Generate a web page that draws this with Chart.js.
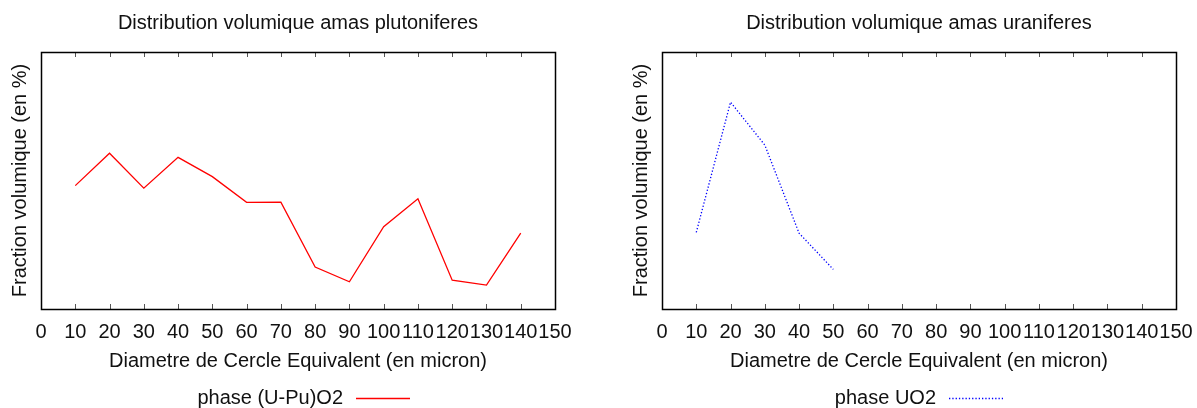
<!DOCTYPE html>
<html>
<head>
<meta charset="utf-8">
<script src="https://cdn.jsdelivr.net/npm/chart.js@4/dist/chart.umd.min.js"></script>
<style>
  html, body { margin: 0; padding: 0; background: #fff; }
  #wrap { position: relative; width: 1197px; height: 408px; overflow: hidden; }
  canvas { position: absolute; top: 0; }
</style>
</head>
<body>
<div id="wrap">
  <canvas id="c1" width="600" height="408" style="left:0px"></canvas>
  <canvas id="c2" width="600" height="408" style="left:621px"></canvas>
</div>
<script>
// ---- data ----
const xTickLabels = [0, 10, 20, 30, 40, 50, 60, 70, 80, 90, 100, 110, 120, 130, 140, 150];
const plutoSizes = [10, 20, 30, 40, 50, 60, 70, 80, 90, 100, 110, 120, 130, 140];
const plutoValues = [4.80, 6.06, 4.70, 5.90, 5.15, 4.15, 4.16, 1.63, 1.06, 3.20, 4.29, 1.12, 0.93, 2.95];
const uranSizes = [10, 20, 30, 40, 50];
const uranValues = [2.98, 8.05, 6.38, 2.95, 1.54];
const plutoTitle = 'Distribution volumique amas plutoniferes';
const uranTitle = 'Distribution volumique amas uraniferes';
const xTitle = 'Diametre de Cercle Equivalent (en micron)';
const yTitle = 'Fraction volumique (en %)';
const plutoLabel = 'phase (U-Pu)O2';
const uranLabel = 'phase UO2';

const FONT = '"Liberation Sans", Arial, Helvetica, sans-serif';
const FS = 20;

const framePlugin = {
  id: 'frame',
  afterDraw(chart, args, opts) {
    const ctx = chart.ctx;
    const a = chart.chartArea;
    const xs = chart.scales.x;
    ctx.save();
    // inward ticks top & bottom
    ctx.strokeStyle = '#555';
    ctx.lineWidth = 1;
    ctx.beginPath();
    xTickLabels.forEach(v => {
      const px = Math.round(xs.getPixelForValue(v)) + 0.5;
      ctx.moveTo(px, a.bottom); ctx.lineTo(px, a.bottom - 5);
      ctx.moveTo(px, a.top); ctx.lineTo(px, a.top + 5);
    });
    ctx.stroke();
    // frame
    ctx.strokeStyle = '#000';
    ctx.lineWidth = 1.5;
    ctx.strokeRect(Math.round(a.left) + 0.5, Math.round(a.top) + 0.5,
                   Math.round(a.right - a.left), Math.round(a.bottom - a.top));
    // title
    ctx.fillStyle = '#111';
    ctx.font = FS + 'px ' + FONT;
    ctx.textAlign = 'center';
    ctx.textBaseline = 'middle';
    ctx.fillText(opts.title, (a.left + a.right) / 2, opts.titleY);
    // legend: text right-aligned, then sample line
    const ds = chart.data.datasets[0];
    ctx.textAlign = 'right';
    ctx.fillText(ds.label, opts.sampleX - 13, opts.legendY);
    ctx.strokeStyle = ds.borderColor;
    ctx.lineWidth = ds.borderWidth;
    ctx.setLineDash(ds.borderDash || []);
    ctx.beginPath();
    ctx.moveTo(opts.sampleX, opts.legendY + 0.5);
    ctx.lineTo(opts.sampleX + 54, opts.legendY + 0.5);
    ctx.stroke();
    ctx.restore();
  }
};

function makeChart(id, sizes, values, label, color, dash, width, title, sampleX) {
  return new Chart(document.getElementById(id), {
    type: 'line',
    data: {
      datasets: [{
        label: label,
        data: sizes.map((s, i) => ({x: s, y: values[i]})),
        borderColor: color,
        borderWidth: width,
        borderDash: dash,
        pointRadius: 0,
        tension: 0,
        fill: false
      }]
    },
    options: {
      responsive: false,
      animation: false,
      devicePixelRatio: 1,
      layout: { padding: { top: 52, right: 45, bottom: 30, left: 0 } },
      plugins: {
        legend: { display: false },
        tooltip: { enabled: false },
        frame: { title: title, titleY: 23, sampleX: sampleX, legendY: 398 }
      },
      scales: {
        x: {
          type: 'linear', min: 0, max: 150,
          afterFit(s) { s.height = 69; },
          afterBuildTicks(s) { s.ticks = xTickLabels.map(v => ({value: v})); },
          ticks: {
            autoSkip: false, maxRotation: 0, minRotation: 0, padding: 11,
            color: '#111', font: { family: FONT, size: FS },
            callback: v => String(v)
          },
          grid: { display: false, drawTicks: false },
          border: { display: false },
          title: { display: true, text: xTitle, color: '#111',
                   font: { family: FONT, size: FS }, padding: { top: 0, bottom: 5 } }
        },
        y: {
          min: 0, max: 10,
          afterFit(s) { s.width = 41; },
          ticks: { display: false },
          grid: { display: false, drawTicks: false },
          border: { display: false },
          title: { display: true, text: yTitle, color: '#111',
                   font: { family: FONT, size: FS }, padding: { top: 8, bottom: 0 } }
        }
      }
    },
    plugins: [framePlugin]
  });
}

makeChart('c1', plutoSizes, plutoValues, plutoLabel, '#ff0000', [], 1.3, plutoTitle, 356);
makeChart('c2', uranSizes, uranValues, uranLabel, '#0000ff', [1.3, 2], 1.3, uranTitle, 328);
</script>
</body>
</html>
